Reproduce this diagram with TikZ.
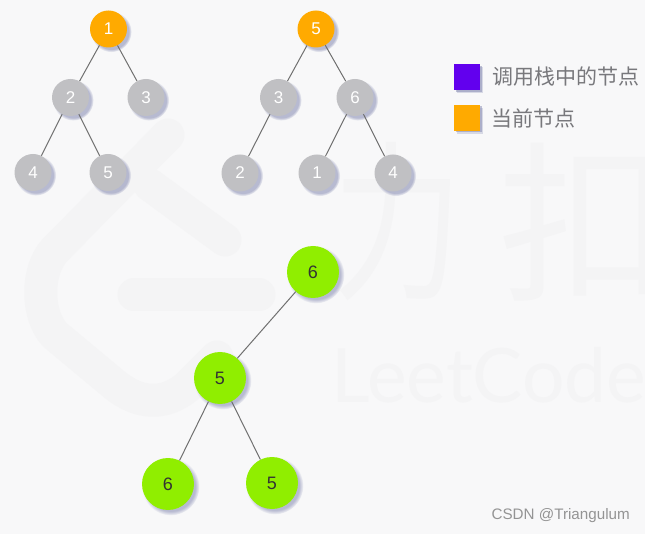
\documentclass[tikz,border=0pt]{standalone}
\usepackage{fontspec}
\setmainfont{Liberation Sans}
\newfontfamily\cjkfont{Noto Sans CJK SC}
\newfontfamily\markfont{Lato}
\usetikzlibrary{shadows}
\definecolor{PageGray}{RGB}{248, 248, 249}
\definecolor{MarkGray}{RGB}{244, 244, 245}
\definecolor{BallGray}{RGB}{192, 192, 195}
\definecolor{CurrentOrange}{RGB}{255, 170, 0}
\definecolor{StackPurple}{RGB}{98, 0, 238}
\definecolor{LeafGreen}{RGB}{144, 238, 0}
\definecolor{ShadowBlue}{RGB}{120, 125, 170}
\definecolor{EdgeGray}{RGB}{112, 112, 112}
\definecolor{LabelGray}{RGB}{120, 120, 124}
\tikzset{
  softshadow/.style={circular drop shadow={shadow xshift=2.5pt, shadow yshift=-2.5pt, shadow scale=1.1, fill=ShadowBlue, opacity=0.5}},
  boxshadow/.style={drop shadow={shadow xshift=3pt, shadow yshift=-3pt, fill=ShadowBlue, opacity=0.25},
    drop shadow={shadow xshift=1.5pt, shadow yshift=-1.5pt, fill=ShadowBlue, opacity=0.45}},
  smallball/.style={circle, minimum size=37pt, inner sep=0pt, softshadow, text=white, font=\fontsize{17}{20}\selectfont},
  grayball/.style={smallball, fill=BallGray},
  orangeball/.style={smallball, fill=CurrentOrange},
  greenball/.style={circle, minimum size=52pt, inner sep=0pt, softshadow, fill=LeafGreen, text=black!80, font=\fontsize{18}{20}\selectfont},
  treeedge/.style={EdgeGray, line width=1pt},
  legendbox/.style={minimum size=26pt, inner sep=0pt, boxshadow},
  legendtext/.style={anchor=west, inner sep=0pt, text=LabelGray, font=\cjkfont\fontsize{21}{24}\selectfont},
  markstroke/.style={MarkGray, line width=33pt, line cap=round, line join=round},
  markhan/.style={MarkGray, inner sep=0pt, transform shape, font=\cjkfont\fontsize{172}{180}\selectfont}
}

\begin{document}
\begin{tikzpicture}[x=1pt, y=-1pt]
  \useasboundingbox (0,0) rectangle (645,534);
  \clip (0,0) rectangle (645,534);
  \fill[PageGray] (0,0) rectangle (645,534);

  % Watermark
  \draw[markstroke] (168,135) -- (55,250) .. controls (36,270) and (36,315) .. (55,335)
    -- (115,385) .. controls (140,405) and (165,405) .. (187,387) -- (217,357);
  \draw[markstroke] (150,185) -- (225,240);
  \draw[markstroke] (134,295) -- (259,295);
  \begin{scope}[xscale=0.75]
    \node[markhan] (markli) at (530,222) {力};
  \end{scope}
  \node[markhan] (markkou) at (584,222) {扣};
  \node[MarkGray, font=\markfont\fontsize{75}{90}\selectfont, anchor=base west, inner sep=0pt] (markname) at (331,402) {LeetCode};

  % First tree
  \foreach \n/\x/\y/\t in {b/70.5/97.5/2, c/146/97.5/3, d/33/172.5/4, e/108/172.5/5} {
    \node[grayball] (\n) at (\x,\y) {\t};
  }
  \node[orangeball] (a) at (108.5,29) {1};

  % Second tree
  \foreach \n/\x/\y/\t in {q/278.5/97.5/3, r/355/97.5/6, s/240/173/2, t/317/173/1, u/393/173/4} {
    \node[grayball] (\n) at (\x,\y) {\t};
  }
  \node[orangeball] (p) at (316,29) {5};

  % Third tree
  \foreach \n/\x/\y/\t in {v/313/272/6, w/220/378/5, y/168/484/6, z/272/483/5} {
    \node[greenball] (\n) at (\x,\y) {\t};
  }

  % Edges
  \foreach \f/\g in {a/b, a/c, b/d, b/e, p/q, p/r, q/s, r/t, r/u, v/w, w/y, w/z} {
    \draw[treeedge] (\f) -- (\g);
  }

  % Legend
  \node[legendbox, fill=StackPurple] (stackbox) at (467,77.5) {};
  \node[legendbox, fill=CurrentOrange] (currentbox) at (467,118) {};
  \node[legendtext] (stacktext) at (492,77) {调用栈中的节点};
  \node[legendtext] (currenttext) at (491,118) {当前节点};

  % Source line
  \node[anchor=east, inner sep=0pt, text=black!42, font=\fontsize{15.2}{18}\selectfont] (source) at (630,516) {CSDN @Triangulum};
\end{tikzpicture}
\end{document}
